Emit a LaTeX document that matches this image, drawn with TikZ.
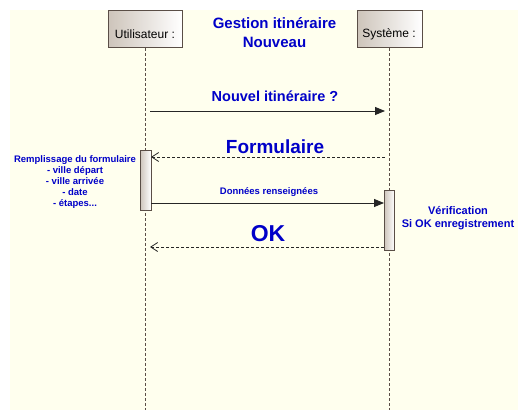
\documentclass[tikz,border=0pt]{standalone}
\usepackage{fontspec}
\setmainfont{Liberation Sans}
\usetikzlibrary{arrows.meta}
\definecolor{bgyellow}{RGB}{255,255,238}
\definecolor{edge}{RGB}{90,78,70}
\definecolor{shadeL}{RGB}{205,196,186}
\definecolor{txtblue}{RGB}{0,0,200}
\tikzset{
  objbox/.style={draw=edge, line width=0.8pt, left color=shadeL, right color=white,
    minimum height=37pt, inner sep=0pt, anchor=north},
  objlabel/.style={font=\fontsize{12}{14}\selectfont, text=black, inner sep=0pt},
  actbox/.style={draw=edge, line width=0.8pt, left color=shadeL, right color=white},
  lifeline/.style={draw=edge, line width=0.8pt, dash pattern=on 3pt off 2pt},
  callmsg/.style={draw=black!85, line width=0.9pt, -{Triangle[length=10pt,width=8pt]}},
  retmsg/.style={draw=black!85, line width=0.8pt, dash pattern=on 3pt off 2pt, -{Straight Barb[length=7pt,width=9pt]}},
  bluetxt/.style={text=txtblue, font=\bfseries, inner sep=0pt, align=center},
}
\begin{document}
\begin{tikzpicture}[x=1pt,y=-1pt]
\useasboundingbox (0,0) rectangle (528,420);
\fill[bgyellow] (10,10) rectangle (518,410);
% lifelines
\coordinate (Ubot) at (145,410);
\coordinate (Sbot) at (389,410);
\node[objbox, minimum width=74pt] (U) at (145,10) {};
\node[objlabel] (Ul) at (145,34) {Utilisateur :};
\node[objbox, minimum width=65pt] (S) at (389.5,10) {};
\node[objlabel] (Sl) at (389,34) {Syst\`eme :};
\draw[lifeline] (U.south) -- (Ubot);
\draw[lifeline] (S.south -| Sbot) -- (Sbot);
% activation boxes
\path[actbox] (140,150) rectangle (151,210);
\path[actbox] (384,190) rectangle (394.5,250);
% title
\node[bluetxt, font=\bfseries\fontsize{15}{19}\selectfont] (title) at (274.5,33) {Gestion itin\'eraire\\Nouveau};
% messages
\coordinate (m1a) at (150,111); \coordinate (m1b) at (385,111);
\draw[callmsg] (m1a) -- (m1b);
\node[bluetxt, font=\bfseries\fontsize{14.5}{17}\selectfont] (l1) at (275,96) {Nouvel itin\'eraire ?};
\coordinate (m2a) at (385,157); \coordinate (m2b) at (151,157);
\draw[retmsg] (m2a) -- (m2b);
\node[bluetxt, font=\bfseries\fontsize{19}{22}\selectfont] (l2) at (275,147) {Formulaire};
\coordinate (m3a) at (151,203); \coordinate (m3b) at (384,203);
\draw[callmsg] (m3a) -- (m3b);
\node[bluetxt, font=\bfseries\fontsize{9.5}{11}\selectfont] (l3) at (269,192) {Donn\'ees renseign\'ees};
\coordinate (m4a) at (384,247); \coordinate (m4b) at (150,247);
\draw[retmsg] (m4a) -- (m4b);
\node[bluetxt, font=\bfseries\fontsize{23}{26}\selectfont] (l4) at (268,234) {OK};
% notes
\node[bluetxt, font=\bfseries\fontsize{9.5}{11.2}\selectfont] (n1) at (75,182) {Remplissage du formulaire\\- ville d\'epart\\- ville arriv\'ee\\- date\\- \'etapes...};
\node[bluetxt, font=\bfseries\fontsize{11}{13}\selectfont] (n2) at (458,218) {V\'erification\\Si OK enregistrement};
\end{tikzpicture}
\end{document}
